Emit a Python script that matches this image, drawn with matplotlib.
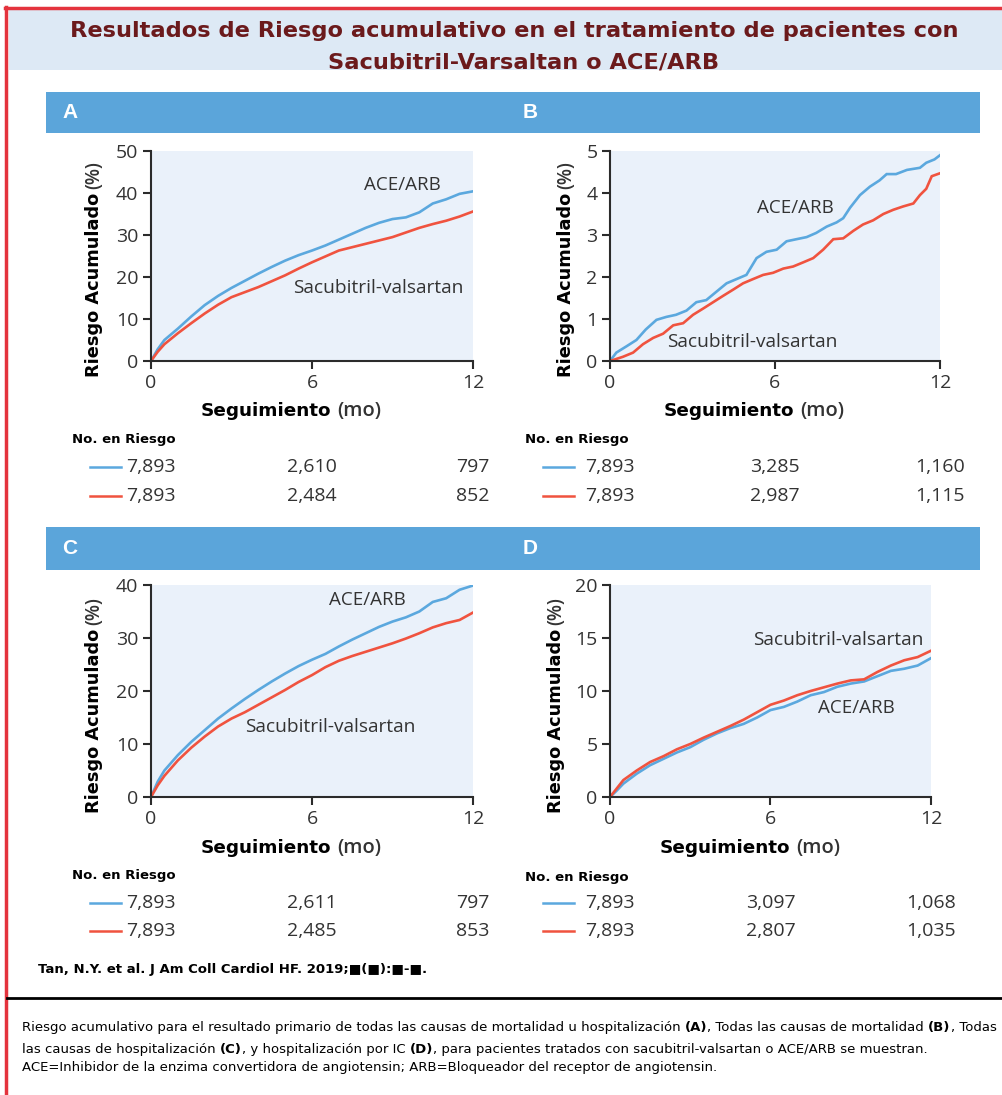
import matplotlib
matplotlib.use('Agg')
import matplotlib.pyplot as plt
from matplotlib.patches import Rectangle
from matplotlib.lines import Line2D
import matplotlib.transforms as mtrans

# ---------------- data ----------------
months_acd = [0, 0.25, 0.5, 1, 1.5, 2, 2.5, 3, 3.5, 4, 4.5, 5, 5.5, 6, 6.5, 7, 7.5, 8,
              8.5, 9, 9.5, 10, 10.5, 11, 11.5, 12]

a_ace = [0, 2.8, 5.0, 7.7, 10.6, 13.3, 15.5, 17.4, 19.1, 20.8, 22.4, 23.9, 25.2, 26.3,
         27.5, 28.9, 30.3, 31.7, 32.9, 33.8, 34.2, 35.4, 37.5, 38.5, 39.8, 40.4]
a_sv = [0, 2.2, 4.0, 6.6, 9.0, 11.3, 13.4, 15.2, 16.4, 17.6, 19.0, 20.4, 22.0, 23.5,
        24.9, 26.3, 27.1, 27.9, 28.7, 29.5, 30.6, 31.7, 32.6, 33.4, 34.4, 35.6]

b_ace_months = [0, 0.23, 0.6, 0.96, 1.3, 1.69, 2.05, 2.4, 2.78, 3.14, 3.5, 3.87, 4.24, 4.6,
                4.96, 5.33, 5.69, 6.06, 6.42, 6.78, 7.15, 7.5, 7.88, 8.24, 8.48, 8.73, 9.09,
                9.45, 9.8, 10.06, 10.4, 10.8, 11.27, 11.5, 11.8, 12]
b_ace = [0, 0.2, 0.35, 0.5, 0.75, 0.98, 1.05, 1.1, 1.2, 1.4, 1.45, 1.65, 1.85, 1.95,
         2.05, 2.45, 2.6, 2.65, 2.85, 2.9, 2.95, 3.05, 3.2, 3.3, 3.4, 3.65, 3.95,
         4.15, 4.3, 4.45, 4.45, 4.55, 4.6, 4.72, 4.8, 4.9]
b_sv_months = [0, 0.47, 0.84, 1.2, 1.57, 1.93, 2.3, 2.66, 3.02, 3.39, 3.75, 4.11, 4.48,
               4.84, 5.2, 5.57, 5.93, 6.3, 6.66, 7.03, 7.39, 7.75, 8.12, 8.48, 8.85, 9.2,
               9.57, 9.94, 10.3, 10.66, 11.03, 11.27, 11.5, 11.7, 12]
b_sv = [0, 0.1, 0.2, 0.4, 0.55, 0.65, 0.85, 0.9, 1.1, 1.25, 1.4, 1.55, 1.7, 1.85, 1.95,
        2.05, 2.1, 2.2, 2.25, 2.35, 2.45, 2.65, 2.9, 2.92, 3.1, 3.25, 3.35, 3.5, 3.6,
        3.68, 3.75, 3.95, 4.1, 4.4, 4.47]

c_ace = [0, 2.9, 5.0, 7.9, 10.4, 12.6, 14.8, 16.7, 18.5, 20.2, 21.8, 23.3, 24.7, 25.9,
         27.0, 28.4, 29.7, 30.9, 32.1, 33.1, 33.9, 35.0, 36.8, 37.5, 39.1, 39.9]
c_sv = [0, 2.2, 4.0, 6.9, 9.3, 11.4, 13.3, 14.8, 16.0, 17.4, 18.8, 20.2, 21.7, 23.0,
        24.5, 25.7, 26.6, 27.4, 28.2, 29.0, 29.9, 30.9, 32.0, 32.8, 33.4, 34.8]

d_ace = [0, 0.6, 1.26, 2.2, 3.0, 3.6, 4.2, 4.7, 5.4, 6.0, 6.5, 6.9, 7.5, 8.2, 8.5, 9.0,
         9.6, 9.9, 10.4, 10.7, 10.9, 11.4, 11.9, 12.1, 12.4, 13.1]
d_sv = [0, 0.8, 1.6, 2.5, 3.3, 3.85, 4.5, 5.0, 5.6, 6.15, 6.7, 7.3, 8.0, 8.7, 9.1, 9.6,
        10.0, 10.35, 10.7, 11.0, 11.1, 11.8, 12.4, 12.9, 13.2, 13.8]

risk_times = [0, 6, 12]
a_risk_ace = ["7,893", "2,610", "797"]
a_risk_sv = ["7,893", "2,484", "852"]
b_risk_ace = ["7,893", "3,285", "1,160"]
b_risk_sv = ["7,893", "2,987", "1,115"]
c_risk_ace = ["7,893", "2,611", "797"]
c_risk_sv = ["7,893", "2,485", "853"]
d_risk_ace = ["7,893", "3,097", "1,068"]
d_risk_sv = ["7,893", "2,807", "1,035"]

ylims = {"A": 50, "B": 5, "C": 40, "D": 20}
yticks = {"A": [0, 10, 20, 30, 40, 50], "B": [0, 1, 2, 3, 4, 5],
          "C": [0, 10, 20, 30, 40], "D": [0, 5, 10, 15, 20]}

title_lines = ["Resultados de Riesgo acumulativo en el tratamiento de pacientes con",
               "Sacubitril-Varsaltan o ACE/ARB"]
citation = "Tan, N.Y. et al. J Am Coll Cardiol HF. 2019;\u25a0(\u25a0):\u25a0-\u25a0."

# ---------------- style ----------------
BLUE = "#5ba8de"
RED = "#f0533f"
AXBG = "#eaf1fa"
BAR = "#5ba5da"
TXT = "#333333"
SANS = "Open Sans"

W, H = 1003, 1095
fig = plt.figure(figsize=(W / 100, H / 100), dpi=100)
fig.patch.set_facecolor("white")


def fx(px):
    return px / W


def fy(py):
    return 1 - py / H


def frect(x0, y0, x1, y1, **kw):
    fig.patches.append(Rectangle((fx(x0), fy(y1)), fx(x1) - fx(x0), fy(y0) - fy(y1),
                                 transform=fig.transFigure, **kw))


# borders / bands
frect(9, 10, 1003, 70, facecolor="#dde9f5", edgecolor="none")
fig.add_artist(Line2D([fx(5), fx(1003)], [fy(8), fy(8)], color="#e4333d", lw=2.5))
fig.add_artist(Line2D([fx(6.5), fx(6.5)], [fy(7), fy(1095)], color="#e4333d", lw=2.5))

fig.text(fx(514), fy(31), title_lines[0], ha="center", va="center", fontsize=16.2,
         fontweight="bold", color="#6b1a1c", family="DejaVu Sans")
fig.text(fx(524), fy(62), title_lines[1], ha="center", va="center", fontsize=16.2,
         fontweight="bold", color="#6b1a1c", family="DejaVu Sans")

# header bars
for (y0, y1, l1, l2) in [(92, 133, "A", "B"), (527, 570, "C", "D")]:
    frect(46, y0, 980, y1, facecolor=BAR, edgecolor="none")
    fig.text(fx(70), fy((y0 + y1) / 2), l1, ha="center", va="center", color="white",
             fontsize=15, fontweight="bold", family="Liberation Sans")
    fig.text(fx(530), fy((y0 + y1) / 2), l2, ha="center", va="center", color="white",
             fontsize=15, fontweight="bold", family="Liberation Sans")

fig.canvas.draw()
renderer = fig.canvas.get_renderer()

panels = {
    "A": dict(rect=(151, 151, 473, 361), x=months_acd, ace=a_ace, xs=months_acd, sv=a_sv,
              risk=(a_risk_ace, a_risk_sv), ylab_x=94, xlab_cx=291, xlab_y=411,
              nr=(72, 440, 467, 496), ace_lab=(9.35, 41.9), sv_lab=(8.46, 17.4)),
    "B": dict(rect=(610, 151, 940, 361), x=b_ace_months, ace=b_ace, xs=b_sv_months, sv=b_sv,
              risk=(b_risk_ace, b_risk_sv), ylab_x=566, xlab_cx=754, xlab_y=411,
              nr=(525, 440, 467, 496), ace_lab=(6.73, 3.64), sv_lab=(5.16, 0.45)),
    "C": dict(rect=(151, 585, 473, 797), x=months_acd, ace=c_ace, xs=months_acd, sv=c_sv,
              risk=(c_risk_ace, c_risk_sv), ylab_x=94, xlab_cx=291, xlab_y=848,
              nr=(72, 875, 903, 931), ace_lab=(8.05, 37.2), sv_lab=(6.67, 13.2)),
    "D": dict(rect=(610, 585, 931, 797), x=months_acd, ace=d_ace, xs=months_acd, sv=d_sv,
              risk=(d_risk_ace, d_risk_sv), ylab_x=556, xlab_cx=750, xlab_y=848,
              nr=(525, 877, 903, 931), ace_lab=(9.2, 8.4), sv_lab=(8.52, 14.8)),
}

for key, p in panels.items():
    x0, y0, x1, y1 = p["rect"]
    ax = fig.add_axes([fx(x0), fy(y1), fx(x1) - fx(x0), fy(y0) - fy(y1)])
    ax.set_facecolor(AXBG)
    ax.plot(p["x"], p["ace"], color=BLUE, lw=1.9, solid_joinstyle="miter")
    ax.plot(p["xs"], p["sv"], color=RED, lw=1.9, solid_joinstyle="miter")
    ax.set_xlim(0, 12)
    ax.set_ylim(0, ylims[key])
    ax.set_xticks([0, 6, 12])
    ax.set_yticks(yticks[key])
    for s in ["top", "right"]:
        ax.spines[s].set_visible(False)
    for s in ["left", "bottom"]:
        ax.spines[s].set_color("#2b2b2b")
        ax.spines[s].set_linewidth(1.5)
    ax.tick_params(direction="out", length=6, width=1.5, color="#2b2b2b",
                   labelsize=14, labelcolor=TXT, pad=3)
    for lab in ax.get_xticklabels() + ax.get_yticklabels():
        lab.set_family(SANS)
    ax.text(*p["ace_lab"], "ACE/ARB", ha="center", va="center", fontsize=13.5,
            family=SANS, color=TXT)
    ax.text(*p["sv_lab"], "Sacubitril-valsartan", ha="center", va="center", fontsize=13.8,
            family=SANS, color=TXT)

    # y label: bold part + (%)
    cy_bottom = y1 + 16
    t1 = fig.text(fx(p["ylab_x"]), fy(cy_bottom), "Riesgo Acumulado", rotation=90,
                  ha="center", va="bottom", fontsize=12.8, fontweight="bold",
                  family="DejaVu Sans", color="black")
    bb = t1.get_window_extent(renderer)
    fig.text(fx(p["ylab_x"]), (bb.y1 + 4) / H, "(%)", rotation=90, ha="center",
             va="bottom", fontsize=13.5, fontweight="semibold", family=SANS, color=TXT)

    # x label
    t2 = fig.text(0, fy(p["xlab_y"]), "Seguimiento", ha="left", va="center",
                  fontsize=13.2, fontweight="bold", family="DejaVu Sans", color="black")
    t3 = fig.text(0, fy(p["xlab_y"]), "(mo)", ha="left", va="center", fontsize=14.5,
                  fontweight="semibold", family=SANS, color=TXT)
    w2 = t2.get_window_extent(renderer).width
    w3 = t3.get_window_extent(renderer).width
    gap = 6
    start = p["xlab_cx"] - (w2 + gap + w3) / 2
    t2.set_x(fx(start))
    t3.set_x(fx(start + w2 + gap))

    # number at risk
    nx, ny, r1, r2 = p["nr"]
    fig.text(fx(nx), fy(ny), "No. en Riesgo", ha="left", va="center", fontsize=9.5,
             fontweight="bold", family="DejaVu Sans", color="black")
    trans = mtrans.blended_transform_factory(ax.transData, fig.transFigure)
    for row_y, vals, col in [(r1, p["risk"][0], BLUE), (r2, p["risk"][1], RED)]:
        fig.add_artist(Line2D([fx(nx + 18), fx(nx + 49)], [fy(row_y), fy(row_y)],
                              color=col, lw=1.8))
        for t, v in zip(risk_times, vals):
            fig.text(t, fy(row_y), v, transform=trans, ha="center", va="center",
                     fontsize=14, family=SANS, color=TXT)

# citation and caption
fig.text(fx(38), fy(970), citation, ha="left", va="center", fontsize=9.5,
         fontweight="bold", family="DejaVu Sans", color="black")
fig.add_artist(Line2D([fx(7), fx(1003)], [fy(998), fy(998)], color="black", lw=2))

cap_parts = [
    [("Riesgo acumulativo para el resultado primario de todas las causas de mortalidad u hospitalizaci\u00f3n ", False),
     ("(A)", True), (", Todas las causas de mortalidad ", False), ("(B)", True), (", Todas", False)],
    [("las causas de hospitalizaci\u00f3n ", False), ("(C)", True), (", y hospitalizaci\u00f3n por IC ", False),
     ("(D)", True), (", para pacientes tratados con sacubitril-valsartan o ACE/ARB se muestran.", False)],
    [("ACE=Inhibidor de la enzima convertidora de angiotensin; ARB=Bloqueador del receptor de angiotensin.", False)],
]
for row_y, parts in zip([1028, 1049, 1067], cap_parts):
    xpos = 22
    for txt, bold in parts:
        t = fig.text(fx(xpos), fy(row_y), txt, ha="left", va="center", fontsize=9.5,
                     fontweight="bold" if bold else "normal", family="DejaVu Sans",
                     color="black")
        xpos += t.get_window_extent(renderer).width

fig.savefig("out.png", dpi=100, facecolor="white")
